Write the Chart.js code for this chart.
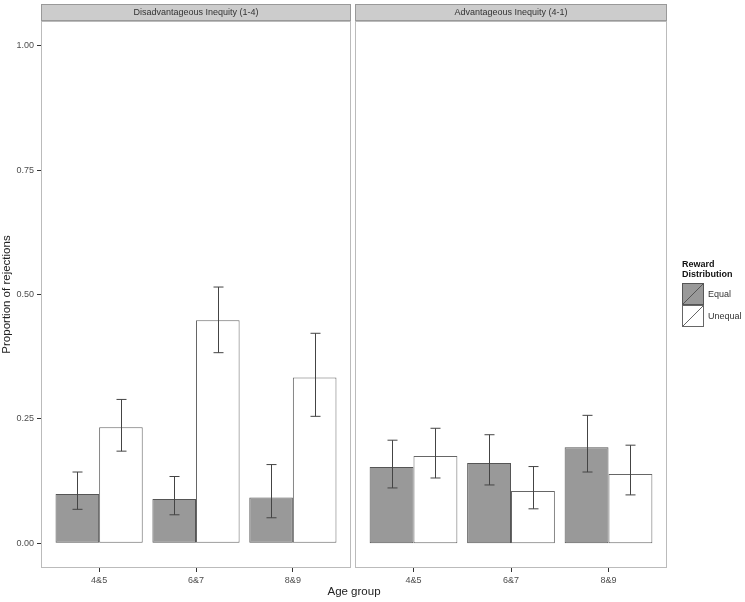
<!DOCTYPE html>
<html>
<head>
<meta charset="utf-8">
<script src="https://cdn.jsdelivr.net/npm/chart.js@4"></script>
<style>
  html, body { margin: 0; padding: 0; background: #fff; }
  #wrap { position: relative; width: 745px; height: 602px; }
  canvas { position: absolute; top: 0; }
</style>
</head>
<body>
<div id="wrap">
  <canvas id="leftChart" width="745" height="602" style="left:0px"></canvas>
  <canvas id="rightChart" width="390" height="602" style="left:355px"></canvas>
</div>
<script>
// ===== data =====
const ageGroups = ["4&5", "6&7", "8&9"];
const panelTitles = ["Disadvantageous Inequity (1-4)", "Advantageous Inequity (4-1)"];
const seriesNames = ["Equal", "Unequal"];
const legendTitle = ["Reward", "Distribution"];
const yTicks = [0, 0.25, 0.5, 0.75, 1.0];
const yTickLabels = ["0.00", "0.25", "0.50", "0.75", "1.00"];

// Disadvantageous Inequity (1-4)
const disEqual = [0.099, 0.089, 0.092];
const disEqualLow = [0.068, 0.057, 0.051];
const disEqualHigh = [0.143, 0.134, 0.158];
const disUnequal = [0.233, 0.448, 0.333];
const disUnequalLow = [0.185, 0.383, 0.255];
const disUnequalHigh = [0.289, 0.515, 0.422];

// Advantageous Inequity (4-1)
const advEqual = [0.153, 0.161, 0.193];
const advEqualLow = [0.111, 0.117, 0.143];
const advEqualHigh = [0.207, 0.218, 0.257];
const advUnequal = [0.175, 0.105, 0.139];
const advUnequalLow = [0.131, 0.069, 0.097];
const advUnequalHigh = [0.231, 0.154, 0.197];

const FONT = '"Liberation Sans", Arial, sans-serif';
const seriesFill = ["#999999", "#ffffff"];
const seriesBorder = ["#555555", "#666666"];

// ===== helpers =====
function makeDatasets(eq, uneq, eqLo, eqHi, unLo, unHi) {
  return [eq, uneq].map((vals, k) => ({
    label: seriesNames[k],
    data: vals.map((v, i) => ({ x: i + 1, y: v })),
    low: k === 0 ? eqLo : unLo,
    high: k === 0 ? eqHi : unHi,
    backgroundColor: seriesFill[k],
    borderColor: seriesBorder[k],
    borderWidth: 1,
    borderSkipped: false,
    categoryPercentage: 0.9,
    barPercentage: 1.0
  }));
}

// strip + panel border + error bars
const panelPlugin = {
  id: "panel",
  afterDatasetsDraw(chart, args, opts) {
    const { ctx, chartArea: a, scales } = chart;
    ctx.save();
    // error bars
    ctx.strokeStyle = "#444";
    ctx.lineWidth = 1;
    chart.data.datasets.forEach((ds, di) => {
      const meta = chart.getDatasetMeta(di);
      meta.data.forEach((bar, j) => {
        const x = Math.round(bar.x) + 0.5;
        const yl = scales.y.getPixelForValue(ds.low[j]);
        const yh = scales.y.getPixelForValue(ds.high[j]);
        ctx.beginPath();
        ctx.moveTo(x, yl); ctx.lineTo(x, yh);
        ctx.moveTo(x - 5, yl); ctx.lineTo(x + 5, yl);
        ctx.moveTo(x - 5, yh); ctx.lineTo(x + 5, yh);
        ctx.stroke();
      });
    });
    // panel border
    ctx.strokeStyle = "#bbbbbb";
    ctx.strokeRect(a.left + 0.5, a.top + 0.5, a.right - a.left - 1, a.bottom - a.top - 1);
    // strip
    ctx.fillStyle = "#cccccc";
    ctx.fillRect(a.left, 4, a.right - a.left, 17);
    ctx.strokeStyle = "#999999";
    ctx.strokeRect(a.left + 0.5, 4.5, a.right - a.left - 1, 16);
    ctx.fillStyle = "#333";
    ctx.font = "9px " + FONT;
    ctx.textAlign = "center";
    ctx.textBaseline = "middle";
    ctx.fillText(opts.title, (a.left + a.right) / 2, 13);
    ctx.restore();
  }
};

// common x title
const xTitlePlugin = {
  id: "xTitle",
  afterDraw(chart) {
    const ctx = chart.ctx;
    ctx.save();
    ctx.fillStyle = "#222";
    ctx.font = "11.5px " + FONT;
    ctx.textAlign = "center";
    ctx.textBaseline = "middle";
    ctx.fillText("Age group", 354, 592);
    ctx.restore();
  }
};

// legend at the right
const legendPlugin = {
  id: "sideLegend",
  afterDraw(chart) {
    const ctx = chart.ctx;
    const x0 = 327;
    ctx.save();
    ctx.fillStyle = "#111";
    ctx.font = "bold 9px " + FONT;
    ctx.textAlign = "left";
    ctx.textBaseline = "middle";
    legendTitle.forEach((t, i) => ctx.fillText(t, x0, 265 + i * 10));
    chart.data.datasets.forEach((ds, i) => {
      const top = 283 + i * 22;
      ctx.fillStyle = ds.backgroundColor;
      ctx.fillRect(x0, top, 22, 22);
      ctx.strokeStyle = ds.borderColor;
      ctx.lineWidth = 1;
      ctx.strokeRect(x0 + 0.5, top + 0.5, 21, 21);
      ctx.beginPath();
      ctx.moveTo(x0 + 1, top + 21);
      ctx.lineTo(x0 + 21, top + 1);
      ctx.stroke();
      ctx.fillStyle = "#333";
      ctx.font = "9px " + FONT;
      ctx.fillText(ds.label, x0 + 26, top + 11.5);
    });
    ctx.restore();
  }
};

function makeOptions(showY, padRight, title) {
  return {
    responsive: false,
    animation: false,
    layout: { padding: { top: 21, right: padRight, bottom: 0, left: 0 } },
    plugins: { legend: { display: false }, tooltip: { enabled: false }, panel: { title } },
    scales: {
      x: {
        type: "linear",
        offset: false,
        min: 0.4,
        max: 3.6,
        afterBuildTicks: s => { s.ticks = ageGroups.map((_, i) => ({ value: i + 1 })); },
        afterFit: s => { s.height = 34; },
        ticks: {
          callback: (v, i) => ageGroups[i],
          autoSkip: false, maxRotation: 0, padding: 3,
          color: "#4d4d4d", font: { size: 9, family: FONT }
        },
        grid: { display: true, offset: false, drawOnChartArea: false, drawTicks: true, tickLength: 4, color: "#333" },
        border: { display: false }
      },
      y: {
        display: showY,
        min: -0.05,
        max: 1.05,
        afterBuildTicks: s => { s.ticks = yTicks.map(v => ({ value: v })); },
        afterFit: s => { s.width = showY ? 41 : 0; },
        ticks: {
          callback: (v, i) => yTickLabels[i],
          padding: 3,
          color: "#4d4d4d", font: { size: 9, family: FONT }
        },
        grid: { display: true, drawOnChartArea: false, drawTicks: true, tickLength: 4, color: "#333" },
        border: { display: false },
        title: {
          display: true, text: "Proportion of rejections", padding: 0,
          color: "#222", font: { size: 11.5, family: FONT }
        }
      }
    }
  };
}

new Chart(document.getElementById("leftChart"), {
  type: "bar",
  data: { datasets: makeDatasets(disEqual, disUnequal, disEqualLow, disEqualHigh, disUnequalLow, disUnequalHigh) },
  options: makeOptions(true, 745 - 351, panelTitles[0]),
  plugins: [panelPlugin, xTitlePlugin]
});

new Chart(document.getElementById("rightChart"), {
  type: "bar",
  data: { datasets: makeDatasets(advEqual, advUnequal, advEqualLow, advEqualHigh, advUnequalLow, advUnequalHigh) },
  options: makeOptions(false, 390 - 312, panelTitles[1]),
  plugins: [panelPlugin, legendPlugin]
});
</script>
</body>
</html>
